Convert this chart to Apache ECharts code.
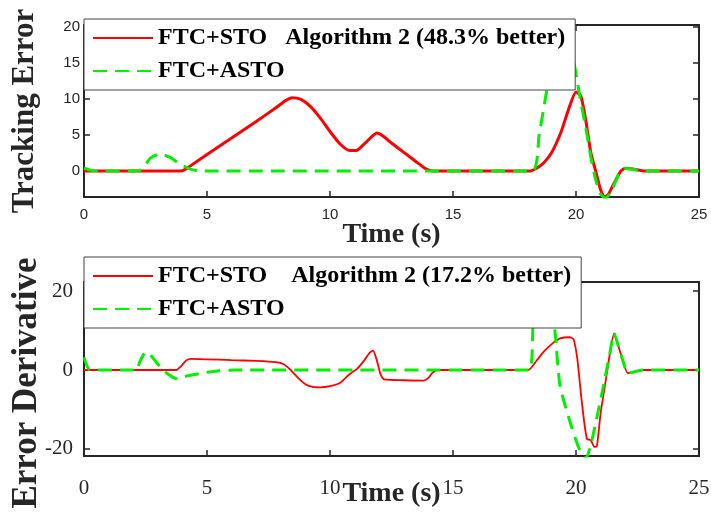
<!DOCTYPE html>
<html>
<head>
<meta charset="utf-8">
<script src="https://cdn.jsdelivr.net/npm/echarts@6/dist/echarts.min.js"></script>
<style>
  html, body { margin: 0; padding: 0; background: #fff; }
  #chart { width: 711px; height: 517px; }
</style>
</head>
<body>
<div id="chart"></div>
<script>
// top panel: tracking error
const teStoT = [0, 3.9, 4.1, 4.4, 5, 6, 7, 7.8, 8.2, 8.45, 8.8, 9.2, 9.6, 10.0, 10.4, 10.8, 11.1, 11.4, 11.7, 11.9, 12.1, 12.5, 13.0, 13.5, 13.9, 14.2, 18.1, 18.4, 18.7, 19.0, 19.4, 19.7, 20.0, 20.2, 20.4, 20.6, 20.8, 21.0, 21.15, 21.3, 21.5, 21.8, 22.0, 22.3, 22.8, 25];
const teSto = [0, 0, 0.2, 0.9, 2.3, 4.6, 6.9, 8.8, 9.8, 10.2, 10.0, 9.0, 7.4, 5.5, 3.8, 2.85, 2.9, 3.8, 4.8, 5.3, 5.0, 3.9, 2.6, 1.3, 0.3, 0, 0, 0.4, 1.2, 2.5, 5.5, 8.6, 11.0, 10.4, 7.0, 2.6, 0.0, -2.6, -3.6, -3.3, -2.0, -0.1, 0.4, 0.3, 0, 0];
const teAstoT = [0, 0.3, 0.6, 2.2, 2.45, 2.7, 3.1, 3.5, 3.9, 4.3, 4.7, 18.2, 18.5, 18.75, 19.0, 19.3, 19.55, 19.8, 19.95, 20.2, 20.4, 20.6, 20.8, 21.0, 21.2, 21.4, 21.6, 21.8, 22.0, 22.3, 22.8, 25];
const teAsto = [0.4, 0.1, 0, 0, 0.7, 1.8, 2.4, 1.9, 1.0, 0.3, 0, 0, 5, 10, 15, 19.5, 21, 17.5, 14.5, 9.5, 6, 2, -1.2, -3.2, -3.8, -3.0, -1.5, 0, 0.35, 0.25, 0, 0];

// bottom panel: error derivative
const edStoT = [0, 3.75, 3.95, 4.15, 4.35, 5, 6, 7, 7.8, 8.1, 8.4, 8.7, 9.0, 9.3, 9.6, 10.0, 10.4, 10.8, 11.1, 11.4, 11.6, 11.75, 11.9, 12.05, 12.2, 13.0, 13.8, 14.0, 14.15, 14.35, 18.05, 18.4, 18.7, 19.0, 19.35, 19.75, 19.9, 20.05, 20.2, 20.35, 20.45, 20.6, 20.75, 20.85, 21.0, 21.2, 21.4, 21.55, 21.7, 21.9, 22.1, 22.3, 22.7, 25];
const edSto = [0, 0, 1.0, 2.4, 2.8, 2.7, 2.5, 2.3, 2.0, 1.5, 0.0, -2.0, -3.6, -4.3, -4.4, -4.1, -3.3, -1.0, 0.3, 2.5, 4.3, 4.9, 2.5, -1.0, -2.4, -2.6, -2.7, -2.0, -0.8, 0, 0, 2.4, 4.7, 6.5, 8.0, 8.3, 7.8, 3.0, -6.0, -14.0, -17.5, -17.8, -19.5, -19.3, -11.0, -3.0, 5.0, 9.3, 6.5, 2.5, -0.8, -0.6, 0, 0];
const edAstoT = [0, 0.25, 2.0, 2.1, 2.3, 2.5, 2.65, 3.0, 3.3, 3.6, 3.8, 4.2, 5.0, 5.5, 6.1, 18.1, 18.25, 18.4, 18.6, 18.9, 19.15, 19.35, 19.75, 20.1, 20.4, 20.6, 20.85, 21.1, 21.35, 21.55, 21.7, 21.9, 22.1, 22.3, 22.7, 25];
const edAsto = [3.2, 0, 0, -0.3, 2.5, 4.5, 4.2, 1.5, -0.5, -1.8, -2.2, -1.5, -0.6, -0.2, 0, 0, 11, 22, 28, 22, 9.5, -4, -13, -19.5, -22.5, -19, -12, -4.5, 3.3, 9.3, 6.5, 2.5, -0.8, -0.6, 0, 0];

const teTicks = [0, 5, 10, 15, 20];
const edTicks = [-20, 0, 20];

const nameSto1 = "FTC+STO   Algorithm 2 (48.3% better)";
const nameSto2 = "FTC+STO    Algorithm 2 (17.2% better)";
const nameAsto = "FTC+ASTO";

function pairs(t, v) {
  return t.map((x, i) => [x, v[i]]);
}

const axisColor = "#262626";
const red = "#ff0000";
const green = "#00f000";

function xAx(grid, pos, labels, font, size, margin, gap) {
  return {
    gridIndex: grid, type: "value", position: pos,
    min: 0, max: 25, interval: 5,
    axisLine: {onZero: false, lineStyle: {color: axisColor, width: 2}},
    axisTick: {inside: true, length: 6, lineStyle: {color: axisColor, width: 1.5}},
    axisLabel: {show: labels, fontFamily: font, fontSize: size, color: axisColor, margin: margin},
    splitLine: {show: false},
    name: labels ? "Time (s)" : "",
    nameLocation: "middle",
    nameGap: gap,
    nameMoveOverlap: false,
    nameTextStyle: {fontFamily: "Liberation Serif", fontWeight: "bold", fontSize: 28, color: axisColor}
  };
}

function yAx(grid, pos, min, max, ticks, labels, font, size, margin, name, gap, nameSize, pad) {
  return {
    gridIndex: grid, type: "value", position: pos,
    min: min, max: max,
    axisLine: {onZero: false, lineStyle: {color: axisColor, width: 2}},
    axisTick: {inside: true, length: 6, customValues: ticks, lineStyle: {color: axisColor, width: 1.5}},
    axisLabel: {show: labels, customValues: ticks, fontFamily: font, fontSize: size, color: axisColor, margin: margin},
    splitLine: {show: false},
    name: name,
    nameLocation: "middle",
    nameGap: gap,
    nameMoveOverlap: false,
    nameTextStyle: {fontFamily: "Liberation Serif", fontWeight: "bold", fontSize: nameSize, color: axisColor, padding: pad}
  };
}

function legendBox(top, names) {
  return {
    orient: "vertical", left: 84, top: top,
    data: names,
    selectedMode: false,
    backgroundColor: "#fff",
    borderColor: "#444",
    borderWidth: 1,
    borderRadius: 0,
    padding: [7, 10, 7, 8],
    itemWidth: 60,
    itemHeight: 14,
    itemGap: 9,
    itemStyle: {opacity: 0},
    textStyle: {fontFamily: "Liberation Serif", fontWeight: "bold", fontSize: 24, color: "#000"}
  };
}

let myChart = echarts.init(document.getElementById("chart"));
let option = {
  animation: false,
  backgroundColor: "#fff",
  grid: [
    {left: 84, right: 12, top: 25, height: 172, outerBoundsMode: "none"},
    {left: 84, right: 12, top: 282, height: 174, outerBoundsMode: "none"}
  ],
  legend: [
    legendBox(19, [nameSto1, nameAsto]),
    legendBox(257, [nameSto2, nameAsto])
  ],
  xAxis: [
    xAx(0, "bottom", true, "Liberation Sans", 15, 10, 24),
    xAx(0, "top", false, "Liberation Sans", 15, 10, 24),
    xAx(1, "bottom", true, "Liberation Serif", 21, 22, 24),
    xAx(1, "top", false, "Liberation Serif", 21, 22, 24)
  ],
  yAxis: [
    yAx(0, "left", -3.6, 20.3, teTicks, true, "Liberation Sans", 15, 4, "Tracking Error", 44, 31, 0),
    yAx(0, "right", -3.6, 20.3, teTicks, false, "Liberation Sans", 15, 4, "", 0, 31, 0),
    yAx(1, "left", -21.8, 22.3, edTicks, true, "Liberation Serif", 21, 11, "Error Derivative", 40, 35, [0, 28, 0, 0]),
    yAx(1, "right", -21.8, 22.3, edTicks, false, "Liberation Serif", 21, 11, "", 0, 35, 0)
  ],
  series: [
    {
      type: "line", name: nameSto1, xAxisIndex: 0, yAxisIndex: 0,
      data: pairs(teStoT, teSto), symbol: "none", smooth: 0.2, clip: true,
      lineStyle: {color: red, width: 3}, itemStyle: {color: red}
    },
    {
      type: "line", name: nameAsto, xAxisIndex: 0, yAxisIndex: 0,
      data: pairs(teAstoT, teAsto), symbol: "none", smooth: 0.2, clip: true,
      lineStyle: {color: green, width: 3, type: [14, 8]}, itemStyle: {color: green}
    },
    {
      type: "line", name: nameSto2, xAxisIndex: 2, yAxisIndex: 2,
      data: pairs(edStoT, edSto), symbol: "none", smooth: 0.2, clip: true,
      lineStyle: {color: red, width: 1.8}, itemStyle: {color: red}
    },
    {
      type: "line", name: nameAsto, xAxisIndex: 2, yAxisIndex: 2,
      data: pairs(edAstoT, edAsto), symbol: "none", smooth: 0.2, clip: true,
      lineStyle: {color: green, width: 3, type: [14, 8]}, itemStyle: {color: green}
    }
  ]
};
myChart.setOption(option);
</script>
</body>
</html>
